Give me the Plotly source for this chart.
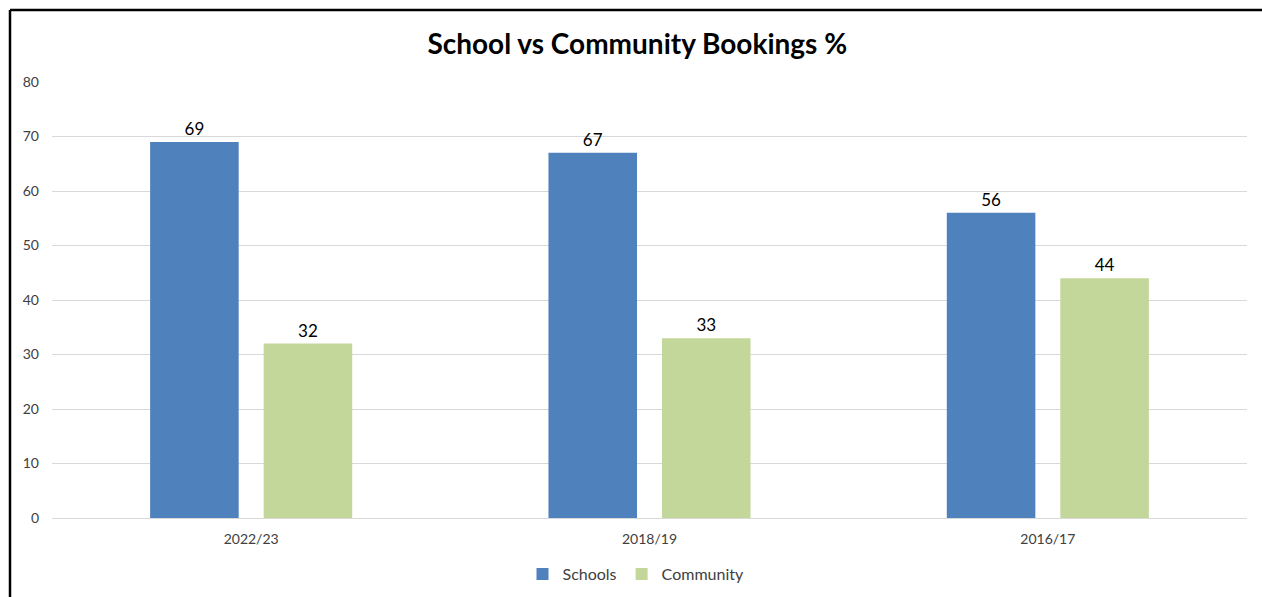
import plotly.graph_objects as go

# Booking share by season
seasons = ["2022/23", "2018/19", "2016/17"]
schools = [69, 67, 56]
community = [32, 33, 44]

FONT = "Lato"
W, H = 1262, 597
L, R, T, B = 52, 15, 82, 79

fig = go.Figure()
fig.add_trace(go.Bar(
    name="Schools", x=seasons, y=schools,
    marker=dict(color="#4F81BD", line=dict(width=0)),
    text=schools, texttemplate="%{y}", textposition="outside",
    textfont=dict(family=FONT, size=17, color="#000000"),
    cliponaxis=False,
))
fig.add_trace(go.Bar(
    name="Community", x=seasons, y=community,
    marker=dict(color="#C4D79B", line=dict(width=0)),
    text=community, texttemplate="%{y}", textposition="outside",
    textfont=dict(family=FONT, size=17, color="#000000"),
    cliponaxis=False,
))

# frame around the chart (left and top edges)
pw, ph = W - L - R, H - T - B
def px(x):
    return (x - L) / pw
def py(y):
    return (H - B - y) / ph

fig.add_shape(type="line", xref="paper", yref="paper",
              x0=px(10), x1=px(10), y0=py(H + 5), y1=py(10),
              line=dict(color="#000000", width=2.5))
fig.add_shape(type="line", xref="paper", yref="paper",
              x0=px(10), x1=px(W + 5), y0=py(10), y1=py(10),
              line=dict(color="#000000", width=2.5))

fig.update_layout(
    width=W, height=H,
    margin=dict(l=L, r=R, t=T, b=B, autoexpand=False),
    paper_bgcolor="#FFFFFF", plot_bgcolor="#FFFFFF",
    barmode="group", bargap=0.43, bargroupgap=0.22,
    title=dict(text="<b>School vs Community Bookings %</b>",
               x=0.505, xanchor="center", y=1 - 44 / H, yanchor="middle",
               font=dict(family=FONT, size=28, color="#000000")),
    font=dict(family=FONT, color="#404040"),
    xaxis=dict(showgrid=False, showline=False, ticks="", ticklabelstandoff=11,
               tickfont=dict(family=FONT, size=14, color="#404040")),
    yaxis=dict(range=[0, 80], dtick=10, showgrid=True, gridcolor="#D9D9D9",
               gridwidth=1, zeroline=True, zerolinecolor="#D9D9D9",
               zerolinewidth=1, showline=False, ticks="", ticklabelstandoff=12,
               tickfont=dict(family=FONT, size=14, color="#404040")),
    legend=dict(orientation="h", x=px(636), xanchor="center",
                yref="container", y=1 - 574 / H, yanchor="middle",
                font=dict(family=FONT, size=16, color="#404040"),
                itemwidth=30, traceorder="normal"),
    showlegend=True,
)

fig.write_html("out.html")
